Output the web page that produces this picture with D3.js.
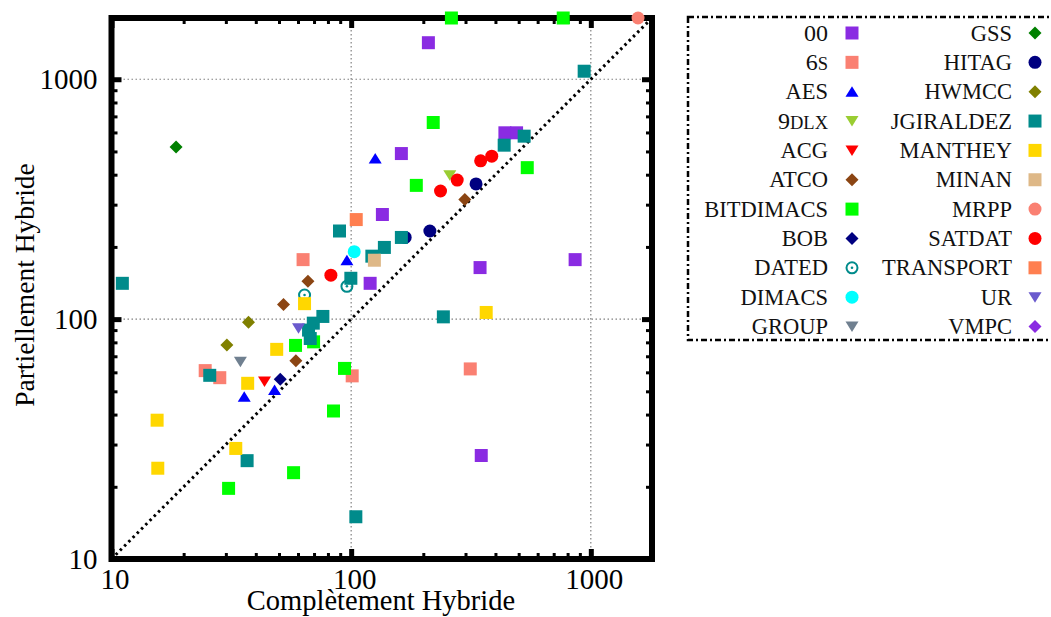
<!DOCTYPE html>
<html>
<head>
<meta charset="utf-8">
<title>Complètement vs Partiellement Hybride</title>
<script src="https://cdn.jsdelivr.net/npm/d3@7"></script>
<style>
    body { margin: 0; background: #fff; }
    svg { font-family: "Liberation Serif", "Times New Roman", serif; }
    .tick line { stroke: #000; }
    .tick text { font-family: "Liberation Serif", "Times New Roman", serif; font-size: 29px; fill: #000; }
</style>
</head>
<body>
<svg id="chart" width="1051" height="617"></svg>
<script>
// series names (legend order = draw order)
var names = ["00", "6s", "AES", "9dlx", "ACG", "ATCO", "BITDIMACS", "BOB", "DATED", "DIMACS", "GROUP",
    "GSS", "HITAG", "HWMCC", "JGIRALDEZ", "MANTHEY", "MINAN", "MRPP", "SATDAT", "TRANSPORT", "UR", "VMPC"];

// [complètement, partiellement] per series
var points = [
    [[210, 1420], [162, 490], [135, 273], [438, 598], [490, 598], [345, 164], [860, 177], [120, 141], [349, 27]],
    [[63, 177], [24.6, 61], [28.3, 57], [101, 58], [314, 62]],
    [[126, 467], [96, 176], [35.8, 47.5], [47.9, 50.6]],
    [[258, 398]],
    [[43.5, 55]],
    [[66, 144], [52.2, 115], [58.8, 67], [298, 315]],
    [[262, 1800], [767, 1800], [220, 660], [543, 428], [187, 361], [58.6, 77.7], [69.7, 80.4], [93.8, 62.3],
        [84.4, 41.4], [57.5, 22.9], [30.8, 19.7]],
    [[50.6, 56.2]],
    [[96, 137], [63.9, 126]],
    [[103, 191]],
    [[34.5, 66.4]],
    [[18.6, 522]],
    [[213, 233], [332, 366], [168, 219]],
    [[37.3, 97], [30.3, 78]],
    [[11.1, 141], [938, 1080], [527, 579], [435, 531], [89.4, 233], [137.6, 199], [122, 183], [162, 219],
        [99.7, 148], [76.2, 102.6], [69.5, 96.2], [66.4, 90], [67.5, 83], [25.7, 58.3], [36.8, 25.7],
        [104.6, 15], [242.5, 102.2]],
    [[366, 106.6], [63.9, 116], [48.9, 74.8], [37, 54], [15.5, 37.9], [15.6, 23.9], [33, 28.9]],
    [[125, 176]],
    [[1574, 1800]],
    [[82.3, 152.5], [236, 342], [277, 380], [347, 457], [386, 478]],
    [[105, 260]],
    [[60.3, 91.5]],
    []
];

var majorTicks = [10, 100, 1000];
var tickLabels = ["10", "100", "1000"];
var minorTicks = [20, 30, 40, 50, 60, 70, 80, 90, 200, 300, 400, 500, 600, 700, 800, 900];
var gridTicks = [100, 1000];
var axisRange = [10, 1800];

// marker styles
var colors = ["#8a2be2", "#fa8072", "#0000ff", "#9acd32", "#ff0000", "#8b4513", "#00ff00", "#000080", "#008b8b",
    "#00ffff", "#708090", "#008000", "#000080", "#808000", "#008b8b", "#ffd700", "#deb887", "#fa8072",
    "#ff0000", "#ff7f50", "#6a5acd", "#8a2be2"];
var shapes = ["square", "square", "up", "down", "down", "diamond", "square", "diamond", "ring", "circle", "down",
    "diamond", "circle", "diamond", "square", "square", "square", "circle", "circle", "square", "down", "diamond"];

var svg = d3.select("#chart");
var plotL = 111.5, plotR = 652, plotT = 18, plotB = 559;

var x = d3.scaleLog().domain(axisRange).range([plotL, plotR]);
var y = d3.scaleLog().domain(axisRange).range([plotB, plotT]);

// grid
var grid = svg.append("g")
    .attr("stroke", "#808080")
    .attr("stroke-width", 1.2)
    .attr("stroke-dasharray", "1.5,2.5");
gridTicks.forEach(function (v) {
    grid.append("line").attr("x1", x(v)).attr("x2", x(v)).attr("y1", plotT).attr("y2", plotB);
    grid.append("line").attr("x1", plotL).attr("x2", plotR).attr("y1", y(v)).attr("y2", y(v));
});

// diagonal y = x
svg.append("line")
    .attr("x1", x(axisRange[0])).attr("y1", y(axisRange[0]))
    .attr("x2", x(axisRange[1])).attr("y2", y(axisRange[1]))
    .attr("stroke", "#000")
    .attr("stroke-width", 3)
    .attr("stroke-dasharray", "2.5,3.5");

// axes: major ticks with labels, minor ticks without
function styleAxis(g, w) {
    g.select(".domain").remove();
    g.selectAll(".tick line").attr("stroke-width", w);
}

var fmt = function (d) { return tickLabels[majorTicks.indexOf(d)]; };

svg.append("g")
    .attr("transform", "translate(0," + plotB + ")")
    .call(d3.axisBottom(x).tickValues(majorTicks).tickFormat(fmt).tickSize(-10).tickPadding(9))
    .call(styleAxis, 5)
    .selectAll("text")
    .attr("dx", 3);

svg.append("g")
    .attr("transform", "translate(" + plotL + ",0)")
    .call(d3.axisLeft(y).tickValues(majorTicks).tickFormat(fmt).tickSize(-10).tickPadding(14))
    .call(styleAxis, 5);

svg.append("g")
    .attr("transform", "translate(0," + plotT + ")")
    .call(d3.axisTop(x).tickValues(majorTicks).tickFormat("").tickSize(-10))
    .call(styleAxis, 5);
svg.append("g")
    .attr("transform", "translate(" + plotR + ",0)")
    .call(d3.axisRight(y).tickValues(majorTicks).tickFormat("").tickSize(-10))
    .call(styleAxis, 5);

svg.append("g").attr("transform", "translate(0," + plotB + ")")
    .call(d3.axisBottom(x).tickValues(minorTicks).tickFormat("").tickSize(-6)).call(styleAxis, 3);
svg.append("g").attr("transform", "translate(0," + plotT + ")")
    .call(d3.axisTop(x).tickValues(minorTicks).tickFormat("").tickSize(-6)).call(styleAxis, 3);
svg.append("g").attr("transform", "translate(" + plotL + ",0)")
    .call(d3.axisLeft(y).tickValues(minorTicks).tickFormat("").tickSize(-6)).call(styleAxis, 3);
svg.append("g").attr("transform", "translate(" + plotR + ",0)")
    .call(d3.axisRight(y).tickValues(minorTicks).tickFormat("").tickSize(-6)).call(styleAxis, 3);

// frame
svg.append("rect")
    .attr("x", plotL).attr("y", plotT)
    .attr("width", plotR - plotL).attr("height", plotB - plotT)
    .attr("fill", "none").attr("stroke", "#000").attr("stroke-width", 6);

// axis titles
svg.append("text")
    .attr("x", 381).attr("y", 610)
    .attr("text-anchor", "middle")
    .attr("font-size", 28.5)
    .text("Complètement Hybride");
svg.append("text")
    .attr("transform", "translate(34,285) rotate(-90)")
    .attr("text-anchor", "middle")
    .attr("font-size", 27.5)
    .text("Partiellement Hybride");

// markers
function drawMarker(g, shape, color) {
    if (shape == "ring") {
        g.append("circle").attr("r", 5.5).attr("fill", "none").attr("stroke", color).attr("stroke-width", 2);
        g.append("circle").attr("r", 1.3).attr("fill", color);
        return;
    }
    var d;
    if (shape == "square") d = "M-6.5,-6.5h13v13h-13z";
    else if (shape == "circle") d = "M6.5,0A6.5,6.5 0 1 1 -6.5,0A6.5,6.5 0 1 1 6.5,0z";
    else if (shape == "up") d = "M0,-5.5L6.5,5H-6.5z";
    else if (shape == "down") d = "M0,5.5L6.5,-5H-6.5z";
    else d = "M0,-6.5L6.5,0L0,6.5L-6.5,0z";
    g.append("path").attr("d", d).attr("fill", color);
}

var marks = svg.append("g");
names.forEach(function (n, i) {
    points[i].forEach(function (p) {
        var g = marks.append("g").attr("transform", "translate(" + x(p[0]) + "," + y(p[1]) + ")");
        drawMarker(g, shapes[i], colors[i]);
    });
});

// legend
var legend = svg.append("g");
legend.append("rect")
    .attr("x", 688).attr("y", 17)
    .attr("width", 380).attr("height", 323)
    .attr("fill", "none").attr("stroke", "#000").attr("stroke-width", 2.5)
    .attr("stroke-dasharray", "6,3,2,3");

var perCol = 11;
names.forEach(function (n, i) {
    var col = Math.floor(i / perCol), row = i % perCol;
    var cy = 33 + row * 29.35;
    var tx = col == 0 ? 828 : 1012;
    var mx = col == 0 ? 852 : 1035;
    var t = legend.append("text")
        .attr("x", tx).attr("y", cy + 7.5)
        .attr("text-anchor", "end")
        .attr("font-size", 22.5)
        .attr("fill", "#111");
    // small caps by hand: lower-case letters drawn as smaller capitals, digits a bit larger
    n.split("").forEach(function (c) {
        var lower = c != c.toUpperCase();
        var digit = c >= "0" && c <= "9";
        t.append("tspan").attr("font-size", lower ? 18.5 : (digit ? 24 : 22.5)).text(c.toUpperCase());
    });
    var g = legend.append("g").attr("transform", "translate(" + mx + "," + cy + ")");
    drawMarker(g, shapes[i], colors[i]);
});
</script>
</body>
</html>
